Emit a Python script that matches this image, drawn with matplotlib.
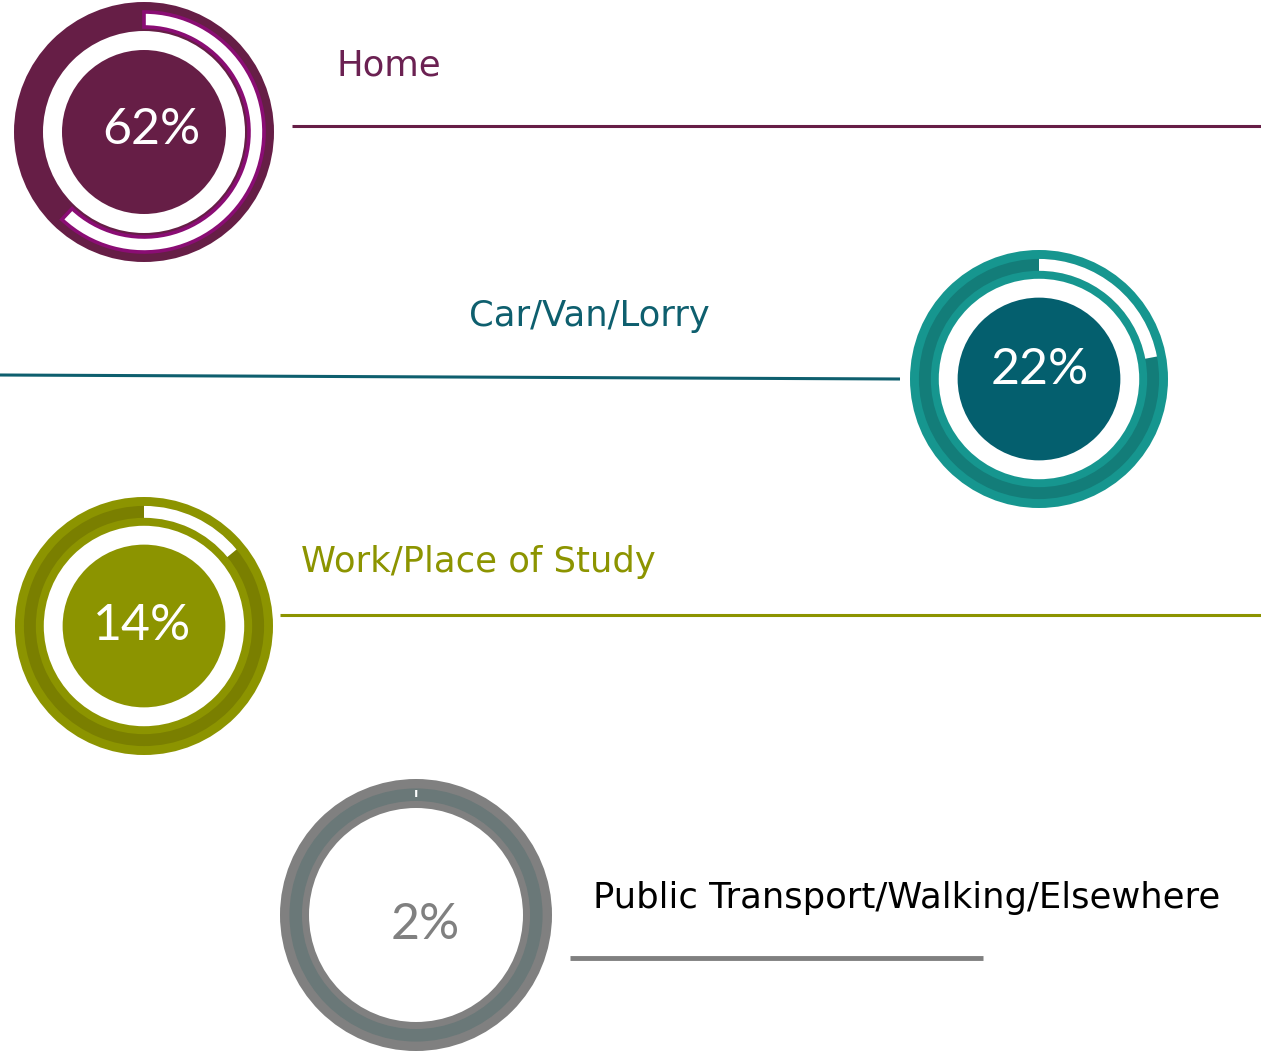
import matplotlib
matplotlib.use("Agg")
import matplotlib.pyplot as plt
from matplotlib.patches import Circle, Wedge

# data
labels = ["Home", "Car/Van/Lorry", "Work/Place of Study", "Public Transport/Walking/Elsewhere"]
shares = [62, 22, 14, 2]
ring_colors = ["#661E46", "#16968F", "#8C9400", "#808080"]
track_colors = ["#661E46", "#137D79", "#7A7F00", "#6A7878"]
disc_colors = ["#661E46", "#045F6E", "#8C9400", "#FFFFFF"]
label_colors = ["#6B2152", "#0E5F6E", "#8C9400", "#000000"]
line_colors = ["#661E46", "#0E5F6E", "#8C9400", "#808080"]
pct_colors = ["white", "white", "white", "#808080"]

# layout in pixel units
centers = [(144, 132), (1039, 379), (144, 626), (416, 915)]
radii = [130, 129, 129, 136]
label_pos = [(336, 66), (469, 316), (301, 562), (593, 898)]
lines = [((292, 1261), (126, 126)), ((0, 900), (375, 379)),
         ((280, 1261), (615, 615)), ((570, 983), (958, 958))]
line_w = [2.2, 2.2, 2.2, 3.5]
pct_offset = [(7, -2), (1, -9), (-2, 0), (9, 10)]

plt.rcParams['font.family'] = ['DejaVu Sans']

fig = plt.figure(figsize=(12.61, 10.53), dpi=100)
ax = fig.add_axes([0, 0, 1, 1])
ax.set_xlim(0, 1261)
ax.set_ylim(1053, 0)
ax.set_aspect('equal')
ax.axis('off')

for i, lab in enumerate(labels):
    cx, cy = centers[i]
    R = radii[i]
    s = R / 130.0
    ax.add_patch(Circle((cx, cy), R, fc=ring_colors[i], ec='none'))
    # track ring
    ax.add_patch(Wedge((cx, cy), 121 * s, 0, 360, width=12 * s, fc=track_colors[i], ec='none'))
    # white progress arc, clockwise from the top
    t1 = -90
    t2 = -90 + 360 * shares[i] / 100.0
    if i == 0:
        ax.add_patch(Wedge((cx, cy), 120 * s, t1, t2, width=15 * s, fc='white',
                           ec='#8A0D74', lw=2.6))
    elif i == 3:
        ax.add_patch(Wedge((cx, cy), 125, t1 - 0.4, t1 + 0.6, width=7, fc='white', ec='none'))
    else:
        ax.add_patch(Wedge((cx, cy), 121 * s, t1, t2, width=12 * s, fc='white', ec='none'))
    # white gap and centre disc
    gap_r = 101 * s if i < 3 else 107
    ax.add_patch(Circle((cx, cy), gap_r, fc='white', ec='none'))
    ax.add_patch(Circle((cx, cy), 82 * s, fc=disc_colors[i], ec='none'))
    ax.text(cx + pct_offset[i][0], cy + pct_offset[i][1], f"{shares[i]}%",
            color=pct_colors[i], fontsize=36, family=['Lato', 'DejaVu Sans'],
            ha='center', va='center')
    # label and rule
    ax.text(label_pos[i][0], label_pos[i][1], lab, color=label_colors[i],
            fontsize=25.5, ha='left', va='center')
    ax.plot(lines[i][0], lines[i][1], color=line_colors[i], lw=line_w[i],
            solid_capstyle='butt')

fig.savefig("out.png", dpi=100)
